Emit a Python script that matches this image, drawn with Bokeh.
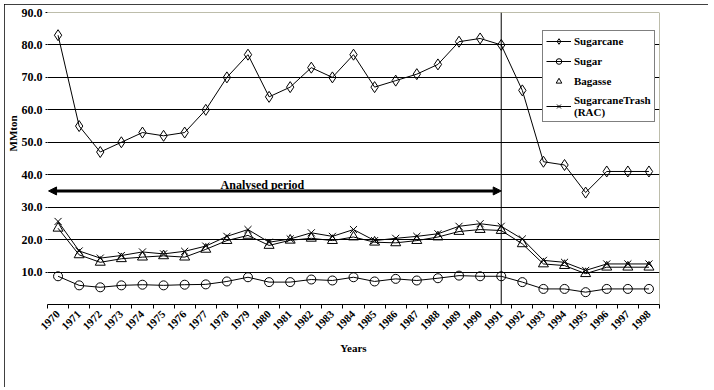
import math
from bokeh.plotting import figure
from bokeh.models import (Range1d, FixedTicker, NumeralTickFormatter, Span, Arrow,
                          NormalHead, Label, Legend, LegendItem, Title)
from bokeh.embed import file_html
from bokeh.resources import INLINE

# ---------------- data ----------------
years = [1970, 1971, 1972, 1973, 1974, 1975, 1976, 1977, 1978, 1979,
         1980, 1981, 1982, 1983, 1984, 1985, 1986, 1987, 1988, 1989,
         1990, 1991, 1992, 1993, 1994, 1995, 1996, 1997, 1998]
sugarcane = [83, 55, 47, 50, 53, 52, 53, 60, 70, 77,
             64, 67, 73, 70, 77, 67, 69, 71, 74, 81,
             82, 80, 66, 44, 43, 34.5, 41, 41, 41]
sugar = [8.7, 5.9, 5.3, 5.9, 6.1, 5.9, 6.1, 6.2, 7.1, 8.4,
         6.9, 6.9, 7.7, 7.4, 8.4, 7.1, 7.9, 7.4, 8.1, 8.9,
         8.7, 8.7, 6.9, 4.8, 4.8, 3.8, 4.8, 4.8, 4.8]
bagasse = [23.5, 15.3, 13.0, 14.1, 14.6, 15.0, 14.6, 17.0, 19.7, 21.3,
           18.2, 19.8, 20.4, 19.7, 20.8, 19.2, 19.0, 19.7, 20.8, 22.5,
           23.1, 22.8, 18.7, 12.5, 12.0, 9.5, 11.5, 11.5, 11.5]
trash = [25.6, 16.5, 14.3, 15.1, 16.2, 15.6, 16.4, 18.0, 21.0, 23.1,
         19.2, 20.2, 22.1, 21.0, 23.1, 19.7, 20.4, 21.0, 21.8, 24.1,
         24.9, 24.1, 20.2, 13.6, 13.0, 10.5, 12.5, 12.5, 12.5]
series_names = ["Sugarcane", "Sugar", "Bagasse", "SugarcaneTrash\n(RAC)"]
y_ticks = [10, 20, 30, 40, 50, 60, 70, 80, 90]
y_label = "MMton"
x_label = "Years"
analysed_label = "Analysed period"
analysed_start = 1969.55
analysed_end = 1991
analysed_level = 35
split_year = 1991

FONT = "Liberation Serif"
OLIVE = "#7c7c58"

p = figure(width=704, height=383,
           x_range=Range1d(1969.5, 1998.5), y_range=Range1d(0, 90),
           output_backend="svg", toolbar_location=None,
           min_border_left=43, min_border_right=49,
           min_border_top=8, min_border_bottom=83,
           margin=(4, 0, 0, 4))
p.styles = {"outline": "1px solid black", "outline-offset": "-1px"}
p.outline_line_color = None
p.background_fill_color = "white"
p.border_fill_color = "white"

# x axis
p.xaxis.ticker = FixedTicker(ticks=years, minor_ticks=[y - 0.5 for y in years] + [years[-1] + 0.5])
p.xaxis.major_tick_out = 0
p.xaxis.major_tick_in = 0
p.xaxis.minor_tick_out = 4
p.xaxis.minor_tick_in = 0
p.xaxis.minor_tick_line_color = "black"
p.xaxis.axis_line_color = "black"
p.xaxis.major_label_orientation = math.pi / 4
p.xaxis.major_label_standoff = 4
p.xaxis.major_label_text_font = FONT
p.xaxis.major_label_text_font_style = "bold"
p.xaxis.major_label_text_font_size = "11px"
p.xaxis.major_label_text_color = "black"
p.xaxis.axis_label = x_label
p.xaxis.axis_label_text_font = FONT
p.xaxis.axis_label_text_font_style = "bold"
p.xaxis.axis_label_text_font_size = "11px"
p.xaxis.axis_label_text_color = "black"
p.xaxis.axis_label_standoff = 6

# y axis
p.yaxis.ticker = FixedTicker(ticks=y_ticks)
p.yaxis.formatter = NumeralTickFormatter(format="0.0")
p.yaxis.axis_line_color = None
p.yaxis.major_tick_out = 2
p.yaxis.major_tick_in = 0
p.yaxis.minor_tick_out = 0
p.yaxis.minor_tick_in = 0
p.yaxis.major_tick_line_color = "black"
p.yaxis.major_label_standoff = 3
p.yaxis.major_label_text_font = FONT
p.yaxis.major_label_text_font_style = "bold"
p.yaxis.major_label_text_font_size = "12px"
p.yaxis.major_label_text_color = "black"

# y axis title, off-centre like the reference
ytitle = Title(text=y_label, align="left", offset=153, standoff=0,
               text_font=FONT, text_font_style="bold", text_font_size="11px",
               text_color="black")
p.add_layout(ytitle, "left")

# grid
p.xgrid.grid_line_color = None
p.ygrid.ticker = FixedTicker(ticks=y_ticks[:-1])
p.ygrid.grid_line_color = "black"
p.ygrid.grid_line_alpha = 1.0
p.ygrid.grid_line_width = 1

p.add_layout(Span(location=y_ticks[-1], dimension="width", line_color=OLIVE, line_width=1))
p.add_layout(Span(location=years[-1] + 0.5, dimension="height", line_color=OLIVE, line_width=1))
p.add_layout(Span(location=split_year, dimension="height", line_color="black", line_width=1))

# series
l1 = p.line(years, sugarcane, line_color="black", line_width=1)
s1 = p.scatter(years, sugarcane, marker="diamond", size=11, fill_color=None, line_color="black")
l2 = p.line(years, sugar, line_color="black", line_width=1)
s2 = p.scatter(years, sugar, marker="circle", size=9, fill_color=None, line_color="black")
l3 = p.line(years, bagasse, line_color="black", line_width=1)
s3 = p.scatter(years, bagasse, marker="triangle", size=10, fill_color=None, line_color="black")
l4 = p.line(years, trash, line_color="black", line_width=1)
s4 = p.scatter(years, trash, marker="x", size=10, fill_color=None, line_color="black")

# analysed period arrow
p.add_layout(Arrow(start=NormalHead(size=8, fill_color="black", line_color="black"),
                   end=NormalHead(size=8, fill_color="black", line_color="black"),
                   x_start=analysed_start, y_start=analysed_level,
                   x_end=analysed_end, y_end=analysed_level,
                   line_color="black", line_width=3))
p.add_layout(Label(x=1977.7, y=analysed_level + 1.7, text=analysed_label,
                   text_font=FONT, text_font_style="bold", text_font_size="12px",
                   text_color="black", text_align="left", text_baseline="alphabetic"))

legend = Legend(items=[
    LegendItem(label=series_names[0], renderers=[l1, s1]),
    LegendItem(label=series_names[1], renderers=[l2, s2]),
    LegendItem(label=series_names[2], renderers=[s3]),
    LegendItem(label=series_names[3], renderers=[l4, s4]),
], location=(495, 182))
legend.border_line_color = "black"
legend.border_line_width = 1
legend.background_fill_color = "white"
legend.background_fill_alpha = 1.0
legend.label_text_font = FONT
legend.label_text_font_style = "bold"
legend.label_text_font_size = "11px"
legend.label_text_color = "black"
legend.glyph_width = 25
legend.glyph_height = 14
legend.label_height = 14
legend.label_standoff = 3
legend.padding = 3
legend.spacing = 6
legend.margin = 0
p.add_layout(legend)

open("out.html", "w").write(file_html(p, INLINE))
